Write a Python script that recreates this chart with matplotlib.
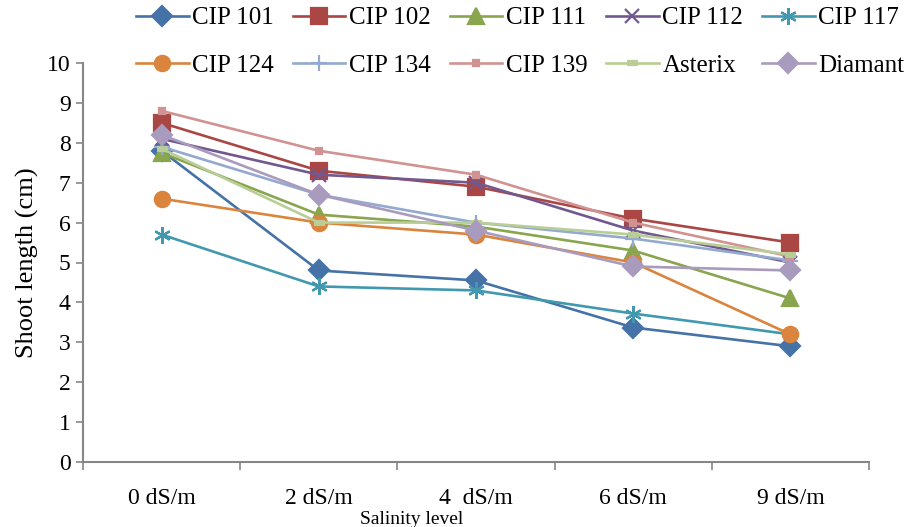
import numpy as np
import matplotlib.pyplot as plt
from matplotlib.ticker import FixedLocator

plt.rcParams["font.family"] = ["Liberation Serif", "DejaVu Serif"]

# ── Data ──────────────────────────────────────────────────────────────────────

salinity = ["0 dS/m", "2 dS/m", "4  dS/m", "6 dS/m", "9 dS/m"]

cip101   = [7.8, 4.8, 4.55, 3.37, 2.9]
cip102   = [8.5, 7.3, 6.9, 6.1, 5.5]
cip111   = [7.75, 6.2, 5.9, 5.3, 4.1]
cip112   = [8.1, 7.2, 7.0, 5.8, 5.0]
cip117   = [5.7, 4.4, 4.3, 3.72, 3.2]
cip124   = [6.6, 6.0, 5.7, 5.0, 3.2]
cip134   = [7.9, 6.7, 6.0, 5.6, 5.05]
cip139   = [8.8, 7.8, 7.2, 6.0, 5.15]
asterix  = [7.85, 6.0, 6.0, 5.7, 5.2]
diamant  = [8.2, 6.7, 5.8, 4.9, 4.8]

# ── Styles (Excel 2007 palette) ───────────────────────────────────────────────

bar_marker = [(-1.6, -0.6), (1.6, -0.6), (1.6, 0.6), (-1.6, 0.6)]

series = [
    ("CIP 101", cip101, "#4572A7", "D", 10),
    ("CIP 102", cip102, "#AA4643", "s", 11),
    ("CIP 111", cip111, "#89A54E", "^", 11),
    ("CIP 112", cip112, "#71588F", "x", 10),
    ("CIP 117", cip117, "#4198AF", (6, 2, 0), 12),
    ("CIP 124", cip124, "#DB843D", "o", 11),
    ("CIP 134", cip134, "#93A9CF", "+", 12),
    ("CIP 139", cip139, "#D19392", "s", 5),
    ("Asterix", asterix, "#B9CD96", bar_marker, 7),
    ("Diamant", diamant, "#A99BBD", "D", 10),
]

# ── Plot ──────────────────────────────────────────────────────────────────────

fig = plt.figure(figsize=(9.07, 5.27), dpi=100)
ax = fig.add_axes([83 / 907, 1 - 462 / 527, (869 - 83) / 907, (462 - 63) / 527])

x = np.arange(len(salinity))
for name, vals, color, marker, ms in series:
    ax.plot(x, vals, color=color, linewidth=1.9, marker=marker, markersize=ms,
            markerfacecolor=color, markeredgecolor=color, markeredgewidth=1.6,
            label=name)

ax.set_xlim(-0.5, len(salinity) - 0.5)
ax.set_ylim(0, 10)
ax.set_yticks(range(0, 11))
ax.set_xticks(x)
ax.set_xticklabels(salinity)
ax.xaxis.set_minor_locator(FixedLocator(np.arange(-0.5, len(salinity), 1.0)))
ax.tick_params(axis="x", which="major", length=0, pad=19, labelsize=17)
ax.tick_params(axis="x", which="minor", length=6, width=1.2, color="#868686", direction="out")
ax.tick_params(axis="y", length=5, width=1.2, color="#868686", direction="out", labelsize=17, pad=4)

for side in ("top", "right"):
    ax.spines[side].set_visible(False)
for side in ("left", "bottom"):
    ax.spines[side].set_color("#868686")
    ax.spines[side].set_linewidth(1.5)

ax.set_ylabel("Shoot length (cm)", fontsize=19, labelpad=6)
fig.text(412 / 907, 1 - 519 / 527, "Salinity level", fontsize=14, ha="center", va="center")

# legend fills row by row, like the original (matplotlib fills columns first)
handles, labels = ax.get_legend_handles_labels()
order = [0, 5, 1, 6, 2, 7, 3, 8, 4, 9]
fig.legend([handles[i] for i in order], [labels[i] for i in order],
           loc="upper left", bbox_to_anchor=(136 / 907, 1 - 7 / 527), ncol=5,
           frameon=False, fontsize=18, handlelength=2.1, handletextpad=0.15,
           columnspacing=0.75, labelspacing=1.0, borderpad=0, borderaxespad=0)

plt.savefig("out.png", dpi=100)
